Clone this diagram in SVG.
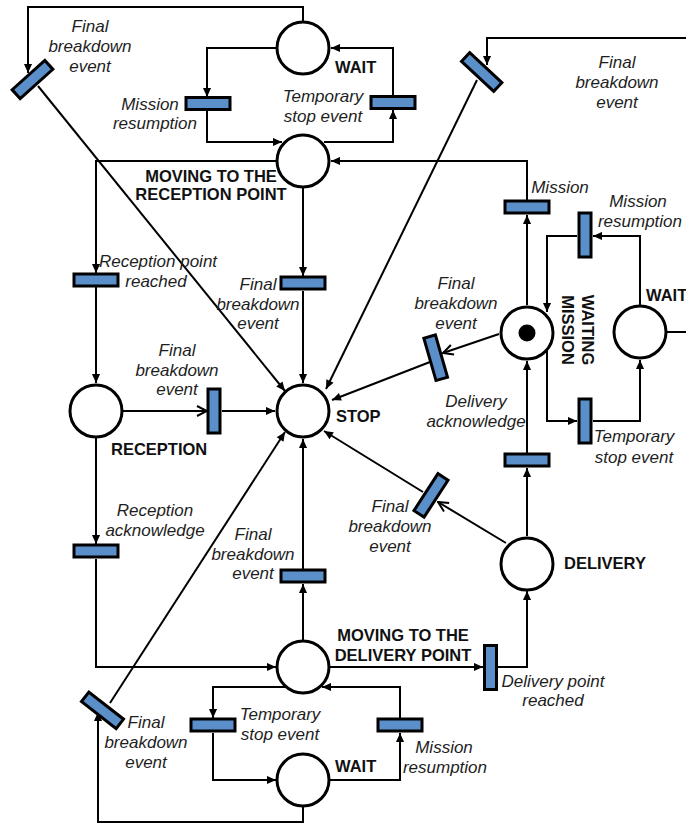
<svg xmlns="http://www.w3.org/2000/svg" width="686" height="825" viewBox="0 0 686 825">
<style>
.pl{fill:#fff;stroke:#000;stroke-width:3}
.tr{fill:#5b8fc9;stroke:#000;stroke-width:3}
.ln{fill:none;stroke:#000;stroke-width:2}
.it{font-family:"Liberation Sans",Arial,sans-serif;font-size:17px;font-style:italic;fill:#1e1e1e;text-anchor:middle}
.bd{font-family:"Liberation Sans",Arial,sans-serif;font-size:16.5px;font-weight:bold;fill:#111}
</style>
<defs>
<marker id="a" viewBox="0 0 10 10" refX="10" refY="5" markerWidth="10" markerHeight="9" markerUnits="userSpaceOnUse" orient="auto"><path d="M0,0.5 L10,5 L0,9.5 z" fill="#000"/></marker>
<marker id="o" viewBox="0 0 12 12" refX="11" refY="6" markerWidth="12" markerHeight="12" markerUnits="userSpaceOnUse" orient="auto"><path d="M1,1 L11,6 L1,11" fill="none" stroke="#000" stroke-width="2"/></marker>
</defs>
<rect width="686" height="825" fill="#fff"/>
<g id="connectors" class="ln">
<path d="M303,21 V7 H28 V73" marker-end="url(#a)"/>
<path d="M38,86 L285,391" marker-end="url(#a)"/>
<path d="M686,38 H487 V65" marker-end="url(#a)"/>
<path d="M477,80 L326,389" marker-end="url(#a)"/>
<path d="M277,48 H207 V97" marker-end="url(#a)"/>
<path d="M207,110 V142 H282" marker-end="url(#a)"/>
<path d="M324,142 H393 V110" marker-end="url(#a)"/>
<path d="M393,96 V48 H331" marker-end="url(#a)"/>
<path d="M276,161 H96 V273" marker-end="url(#a)"/>
<path d="M303,188 V276" marker-end="url(#a)"/>
<path d="M303,291 V383" marker-end="url(#a)"/>
<path d="M527,200 V161 H331" marker-end="url(#a)"/>
<path d="M96,287 V383" marker-end="url(#a)"/>
<path d="M123,411 H207" marker-end="url(#o)"/>
<path d="M222,411 H275" marker-end="url(#a)"/>
<path d="M96,438 V544" marker-end="url(#a)"/>
<path d="M96,559 V667 H276" marker-end="url(#a)"/>
<path d="M303,640 V584" marker-end="url(#a)"/>
<path d="M303,569 V439" marker-end="url(#a)"/>
<path d="M330,667 H483" marker-end="url(#a)"/>
<path d="M498,667 H527 V591" marker-end="url(#a)"/>
<path d="M527,536 V468" marker-end="url(#a)"/>
<path d="M527,453 V361" marker-end="url(#a)"/>
<path d="M527,305 V215" marker-end="url(#a)"/>
<path d="M499,334 L443,353" marker-end="url(#o)"/>
<path d="M430,362 L332,400" marker-end="url(#a)"/>
<path d="M506,543 L438,502" marker-end="url(#o)"/>
<path d="M423,492 L324,431" marker-end="url(#a)"/>
<path d="M640,305 V236 H593" marker-end="url(#a)"/>
<path d="M577,236 H547 V312" marker-end="url(#a)"/>
<path d="M547,351 V421 H577" marker-end="url(#a)"/>
<path d="M593,421 H640 V360" marker-end="url(#a)"/>
<path d="M667,332 H686"/>
<path d="M286,687 H213 V718" marker-end="url(#a)"/>
<path d="M213,733 V780 H276" marker-end="url(#a)"/>
<path d="M330,780 H400 V733" marker-end="url(#a)"/>
<path d="M400,718 V687 H322" marker-end="url(#a)"/>
<path d="M303,807 V822 H98 V712" marker-end="url(#a)"/>
<path d="M110,703 L285,432" marker-end="url(#a)"/>
</g>
<g id="p_wait_top"><circle class="pl" cx="303" cy="48" r="26"/><text class="bd" x="335" y="73">WAIT</text></g>
<g id="p_moving_reception"><circle class="pl" cx="303" cy="161" r="26"/><text class="bd" text-anchor="middle"><tspan x="211" y="182">MOVING TO THE</tspan><tspan x="211" y="200">RECEPTION POINT</tspan></text></g>
<g id="p_stop"><circle class="pl" cx="303" cy="411" r="26"/><text class="bd" x="336" y="422">STOP</text></g>
<g id="p_reception"><circle class="pl" cx="96" cy="411" r="26"/><text class="bd" x="111" y="455">RECEPTION</text></g>
<g id="p_waiting_mission"><circle class="pl" cx="527" cy="333" r="26"/><circle cx="527" cy="333" r="8.5" fill="#000"/><text class="bd" text-anchor="middle" transform="translate(578,330) rotate(90)"><tspan x="0" y="-4">WAITING</tspan><tspan x="0" y="16">MISSION</tspan></text></g>
<g id="p_wait_right"><circle class="pl" cx="640" cy="332" r="26"/><text class="bd" x="646" y="301">WAIT</text></g>
<g id="p_delivery"><circle class="pl" cx="527" cy="564" r="26"/><text class="bd" x="564" y="569">DELIVERY</text></g>
<g id="p_moving_delivery"><circle class="pl" cx="303" cy="667" r="26"/><text class="bd" text-anchor="middle"><tspan x="403" y="641">MOVING TO THE</tspan><tspan x="403" y="661">DELIVERY POINT</tspan></text></g>
<g id="p_wait_bottom"><circle class="pl" cx="303" cy="780" r="26"/><text class="bd" x="335" y="772">WAIT</text></g>
<g id="t_final_tl"><rect class="tr" x="-22" y="-6" width="44" height="12" transform="translate(32.5,79.5) rotate(-42)"/><text class="it"><tspan x="90" y="32">Final</tspan><tspan x="90" y="52">breakdown</tspan><tspan x="90" y="72">event</tspan></text></g>
<g id="t_mission_resumption_top"><rect class="tr" x="186" y="97.5" width="44" height="12"/><text class="it"><tspan x="150" y="110">Mission</tspan><tspan x="155" y="129">resumption</tspan></text></g>
<g id="t_temp_stop_top"><rect class="tr" x="371" y="96.5" width="44" height="12"/><text class="it"><tspan x="323" y="102">Temporary</tspan><tspan x="323" y="122">stop event</tspan></text></g>
<g id="t_final_tr"><rect class="tr" x="-22" y="-6" width="44" height="12" transform="translate(481.7,72) rotate(43)"/><text class="it"><tspan x="617" y="68">Final</tspan><tspan x="617" y="88">breakdown</tspan><tspan x="617" y="108">event</tspan></text></g>
<g id="t_reception_reached"><rect class="tr" x="74" y="274" width="44" height="12"/><text class="it"><tspan x="158" y="267">Reception point</tspan><tspan x="156" y="287">reached</tspan></text></g>
<g id="t_final_mr"><rect class="tr" x="281" y="277" width="44" height="12"/><text class="it"><tspan x="258" y="290">Final</tspan><tspan x="258" y="310">breakdown</tspan><tspan x="258" y="329">event</tspan></text></g>
<g id="t_final_rec"><rect class="tr" x="208" y="389" width="12" height="44"/><text class="it"><tspan x="177" y="356">Final</tspan><tspan x="177" y="376">breakdown</tspan><tspan x="177" y="395">event</tspan></text></g>
<g id="t_mission"><rect class="tr" x="505" y="201" width="44" height="12"/><text class="it" x="560" y="193">Mission</text></g>
<g id="t_mission_resumption_right"><rect class="tr" x="579" y="213" width="12" height="44"/><text class="it"><tspan x="638" y="207">Mission</tspan><tspan x="640" y="227">resumption</tspan></text></g>
<g id="t_final_wm"><rect class="tr" x="-6" y="-22" width="12" height="44" transform="translate(435.7,357.7) rotate(-16)"/><text class="it"><tspan x="456" y="289">Final</tspan><tspan x="456" y="309">breakdown</tspan><tspan x="456" y="329">event</tspan></text></g>
<g id="t_temp_stop_right"><rect class="tr" x="579" y="399" width="12" height="44"/><text class="it"><tspan x="634" y="442">Temporary</tspan><tspan x="634" y="463">stop event</tspan></text></g>
<g id="t_delivery_ack"><rect class="tr" x="505" y="454" width="44" height="12"/><text class="it"><tspan x="476" y="407">Delivery</tspan><tspan x="476" y="427">acknowledge</tspan></text></g>
<g id="t_final_del"><rect class="tr" x="-6" y="-22" width="12" height="44" transform="translate(431,495.4) rotate(33)"/><text class="it"><tspan x="390" y="512">Final</tspan><tspan x="390" y="532">breakdown</tspan><tspan x="390" y="552">event</tspan></text></g>
<g id="t_reception_ack"><rect class="tr" x="74" y="545" width="44" height="12"/><text class="it"><tspan x="155" y="516">Reception</tspan><tspan x="155" y="536">acknowledge</tspan></text></g>
<g id="t_final_md"><rect class="tr" x="281" y="570" width="44" height="12"/><text class="it"><tspan x="253" y="540">Final</tspan><tspan x="253" y="560">breakdown</tspan><tspan x="253" y="579">event</tspan></text></g>
<g id="t_delivery_reached"><rect class="tr" x="484.5" y="645.5" width="12" height="44"/><text class="it"><tspan x="553" y="687">Delivery point</tspan><tspan x="553" y="706">reached</tspan></text></g>
<g id="t_temp_stop_bottom"><rect class="tr" x="191" y="719" width="44" height="12"/><text class="it"><tspan x="280" y="720">Temporary</tspan><tspan x="280" y="740">stop event</tspan></text></g>
<g id="t_mission_resumption_bottom"><rect class="tr" x="378" y="719" width="44" height="12"/><text class="it"><tspan x="444" y="753">Mission</tspan><tspan x="445" y="773">resumption</tspan></text></g>
<g id="t_final_bl"><rect class="tr" x="-22" y="-6" width="44" height="12" transform="translate(102.5,710.3) rotate(38)"/><text class="it"><tspan x="146" y="728">Final</tspan><tspan x="146" y="748">breakdown</tspan><tspan x="146" y="768">event</tspan></text></g>
</svg>
